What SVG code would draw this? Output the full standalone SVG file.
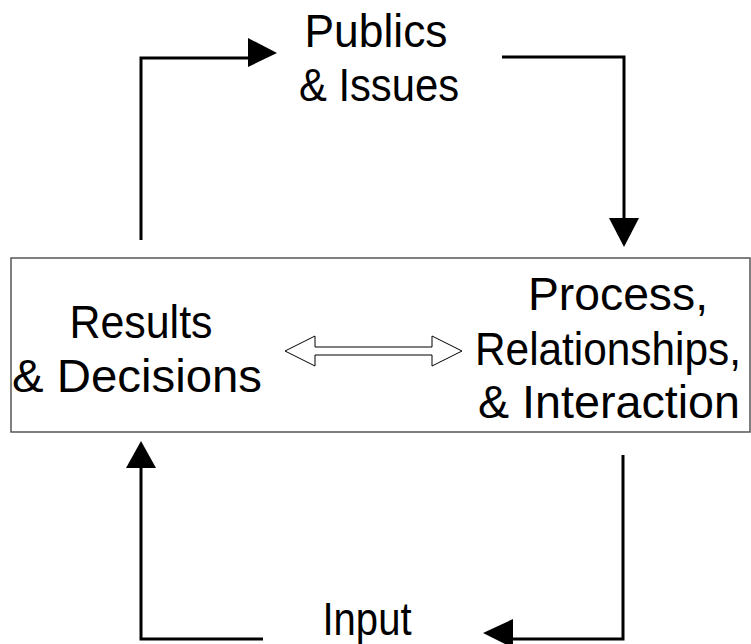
<svg xmlns="http://www.w3.org/2000/svg" width="751" height="644" viewBox="0 0 751 644">
<style>
.t{font-family:"Liberation Sans",Arial,sans-serif;font-size:46px;fill:#000;text-anchor:middle}
.ln{fill:none;stroke:#000;stroke-width:3}
.hd{fill:#000;stroke:none}
</style>
<rect width="751" height="644" fill="#fff"/>
<g id="box">
<rect x="11" y="258" width="739" height="174" fill="none" stroke="#555" stroke-width="1.5"/>
</g>
<g id="publics">
<text class="t" x="376" y="47" textLength="143" lengthAdjust="spacingAndGlyphs">Publics</text>
<text class="t" x="379" y="101" textLength="160" lengthAdjust="spacingAndGlyphs">&amp; Issues</text>
</g>
<g id="results">
<text class="t" x="141" y="338" textLength="143" lengthAdjust="spacingAndGlyphs">Results</text>
<text class="t" x="137" y="392" textLength="250" lengthAdjust="spacingAndGlyphs">&amp; Decisions</text>
</g>
<g id="process">
<text class="t" x="618" y="310" textLength="180" lengthAdjust="spacingAndGlyphs">Process,</text>
<text class="t" x="608" y="365" textLength="266" lengthAdjust="spacingAndGlyphs">Relationships,</text>
<text class="t" x="609" y="418" textLength="262" lengthAdjust="spacingAndGlyphs">&amp; Interaction</text>
</g>
<g id="input">
<text class="t" x="367" y="635" textLength="89" lengthAdjust="spacingAndGlyphs">Input</text>
</g>
<g id="connectors">
<polyline class="ln" points="141,240 141,58 249,58"/>
<polygon class="hd" points="248,38 277,53 248,67"/>
<polyline class="ln" points="502,57 624,57 624,219"/>
<polygon class="hd" points="609,218 639,218 624,247"/>
<polyline class="ln" points="623,455 623,639 512,639"/>
<polygon class="hd" points="513,619 483,633 513,648"/>
<polyline class="ln" points="263,639 141,639 141,467"/>
<polygon class="hd" points="126,468 156,468 141,441"/>
<polygon fill="#fff" stroke="#000" stroke-width="1" points="285,351 315,336 315,347 432,347 432,336 462,351 432,366 432,355 315,355 315,366"/>
</g>
</svg>
